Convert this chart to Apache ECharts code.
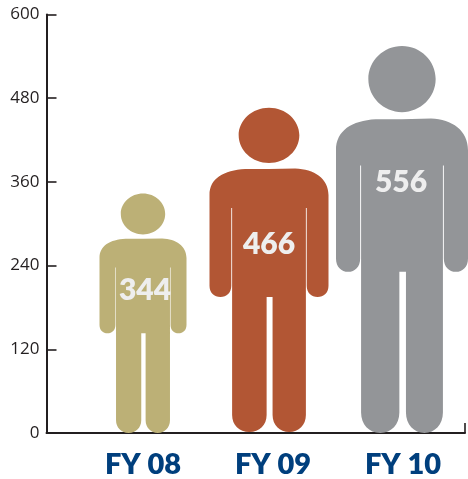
<!DOCTYPE html>
<html><head><meta charset="utf-8">
<style>html,body{margin:0;padding:0;background:#fff}#c{width:468px;height:479px}</style>
<script src="https://cdn.jsdelivr.net/npm/echarts@6/dist/echarts.min.js"></script>
</head><body><div id="c"></div>
<script>
const categories = ['FY 08', 'FY 09', 'FY 10'];
const values = [344, 466, 556];
const yTicks = [0, 120, 240, 360, 480, 600];

const colors = ['#bcb076', '#b25634', '#939598'];
const widths = [87, 119, 132];
const xShift = [0, -4, -1];
const yShift = [5, 4, 5];
const labelShift = [[2, -19], [-4, -23], [-2, -54]];

const person = 'path://' +
  'M24.5 23.5C24.5 10.5 36 0 50 0C64 0 75.5 10.5 75.5 23.5C75.5 36.5 64 47 50 47C36 47 24.5 36.5 24.5 23.5Z' +
  'M0 74C0 60 12 53 30 52L50 52L72 51.5C88 52 100 60 100 74L100 151C100 157 96 160.5 90.8 160.5C85.6 160.5 81.7 157 81.7 151' +
  'L81.7 85L81 85L81 260.5C81 269 75 275 67 275C59 275 53 269 53 260.5L53 160.5L48 160.5L48 260.5C48 269 42 275 33.5 275C25 275 19 269 19 260.5' +
  'L19 85L18.3 85L18.3 151C18.3 157 14.4 160.5 9.2 160.5C4 160.5 0 157 0 151Z';

const axisDark = '#231f20';
const chart = echarts.init(document.getElementById('c'), null, {renderer: 'canvas'});
chart.setOption({
  animation: false,
  backgroundColor: '#fff',
  grid: [
    {left: 46.5, right: 3, top: 14.5, bottom: 46},
    {left: 78, right: 0, top: 14.5, bottom: 46}
  ],
  xAxis: [
    {type: 'category', gridIndex: 0, data: [''],
     axisLine: {lineStyle: {color: axisDark, width: 2}},
     axisTick: {show: true, inside: true, length: 10, lineStyle: {color: axisDark, width: 1.6}},
     axisLabel: {show: false}},
    {type: 'category', gridIndex: 1, data: categories,
     axisLine: {show: false}, axisTick: {show: false},
     axisLabel: {margin: 22, color: '#003f7d', fontFamily: 'Lato', fontWeight: 800, fontSize: 29}}
  ],
  yAxis: [
    {type: 'value', gridIndex: 0, min: 0, max: yTicks[yTicks.length - 1], interval: yTicks[1],
     splitLine: {show: false},
     axisLine: {show: true, lineStyle: {color: axisDark, width: 2}},
     axisTick: {show: true, inside: true, length: 10, lineStyle: {color: axisDark, width: 1.6}},
     axisLabel: {margin: 7, color: axisDark, fontFamily: 'Open Sans', fontSize: 17}},
    {type: 'value', gridIndex: 1, min: 0, max: yTicks[yTicks.length - 1], show: false}
  ],
  series: [{
    type: 'pictorialBar',
    xAxisIndex: 1, yAxisIndex: 1,
    symbol: person,
    symbolPosition: 'start',
    barCategoryGap: 0,
    z: 3,
    data: values.map((v, i) => ({
      value: v,
      symbolSize: [widths[i], '101%'],
      symbolOffset: [xShift[i], yShift[i]],
      itemStyle: {color: colors[i]},
      label: {
        show: true, position: 'inside', offset: labelShift[i],
        color: '#eeeeee', fontFamily: 'Lato', fontWeight: 800, fontSize: 30
      }
    }))
  }]
});
</script></body></html>
